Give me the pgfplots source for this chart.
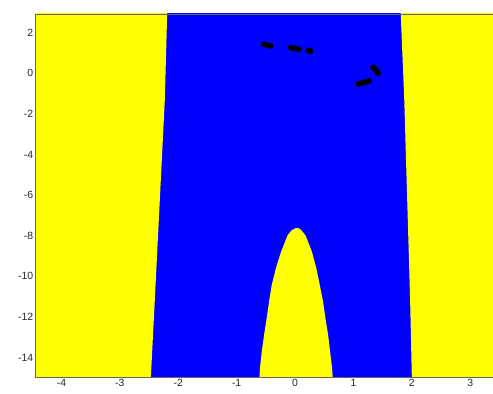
\documentclass[border=0pt]{standalone}
\usepackage{pgfplots}
\pgfplotsset{compat=1.18}
\usepackage{fontspec}
\setmainfont{Liberation Sans}
\definecolor{myyellow}{RGB}{255,255,0}
\definecolor{myblue}{RGB}{0,0,255}
\begin{document}
\begin{tikzpicture}
\begin{axis}[name=ax,
  scale only axis, width=460pt, height=366pt,
  xmin=-4.44, xmax=3.39, ymin=-15, ymax=2.93,
  xtick={-4,-3,-2,-1,0,1,2,3}, ytick={-14,-12,-10,-8,-6,-4,-2,0,2},
  major tick length=0pt,
  tick label style={font=\fontsize{10.5}{12}\selectfont, text=black!85},
  /pgf/number format/assume math mode=true,
  xticklabel style={yshift=2pt},
  yticklabel style={xshift=1pt},
  axis line style={black!60, line width=0.7pt},
  axis on top,
  clip=true]
\addplot[draw=none, fill=myblue] coordinates {(-5,-16) (4,-16) (4,4) (-5,4)} \closedcycle;
\addplot[draw=none, fill=myyellow] coordinates {(-5,-16) (-2.48,-16) (-2.47,-15) (-2.40,-11.09) (-2.23,-1.28) (-2.19,2.93) (-2.19,4) (-5,4)} -- cycle;
\addplot[draw=none, fill=myyellow] coordinates {(1.81,4) (1.81,2.93) (1.87,-1.28) (1.97,-11.09) (2.0,-15) (2.0,-16) (4,-16) (4,4)} -- cycle;
\addplot[draw=none, fill=myyellow] coordinates {
(-0.62,-15.5) (-0.61,-15) (-0.60,-14.52) (-0.57,-13.70) (-0.53,-12.89) (-0.486,-12.07) (-0.445,-11.25) (-0.40,-10.44) (-0.33,-9.62) (-0.24,-8.80) (-0.128,-7.98) (-0.06,-7.74) (0.0,-7.64) (0.037,-7.62) (0.08,-7.66) (0.11,-7.74) (0.179,-7.98) (0.29,-8.80) (0.366,-9.62) (0.424,-10.44) (0.48,-11.25) (0.52,-12.07) (0.566,-12.89) (0.60,-13.70) (0.634,-14.52) (0.645,-15) (0.65,-15.5)} -- cycle;
\addplot[only marks, mark=*, mark size=2.8pt, black] coordinates {
(-0.53,1.43) (-0.47,1.38) (-0.42,1.36)
(-0.07,1.27) (0.0,1.22) (0.06,1.19)
(0.23,1.13) (0.26,1.11)
(1.09,-0.52) (1.15,-0.47) (1.21,-0.42) (1.26,-0.38)
(1.34,0.30) (1.37,0.20) (1.40,0.10) (1.42,0.02)};
\end{axis}
\pgfresetboundingbox
\path (ax.south west) ++(-36pt,-16pt) coordinate (bl);
\path (ax.north east) ++(-3pt,14pt) coordinate (tr);
\useasboundingbox (bl) rectangle (tr);
\end{tikzpicture}
\end{document}
